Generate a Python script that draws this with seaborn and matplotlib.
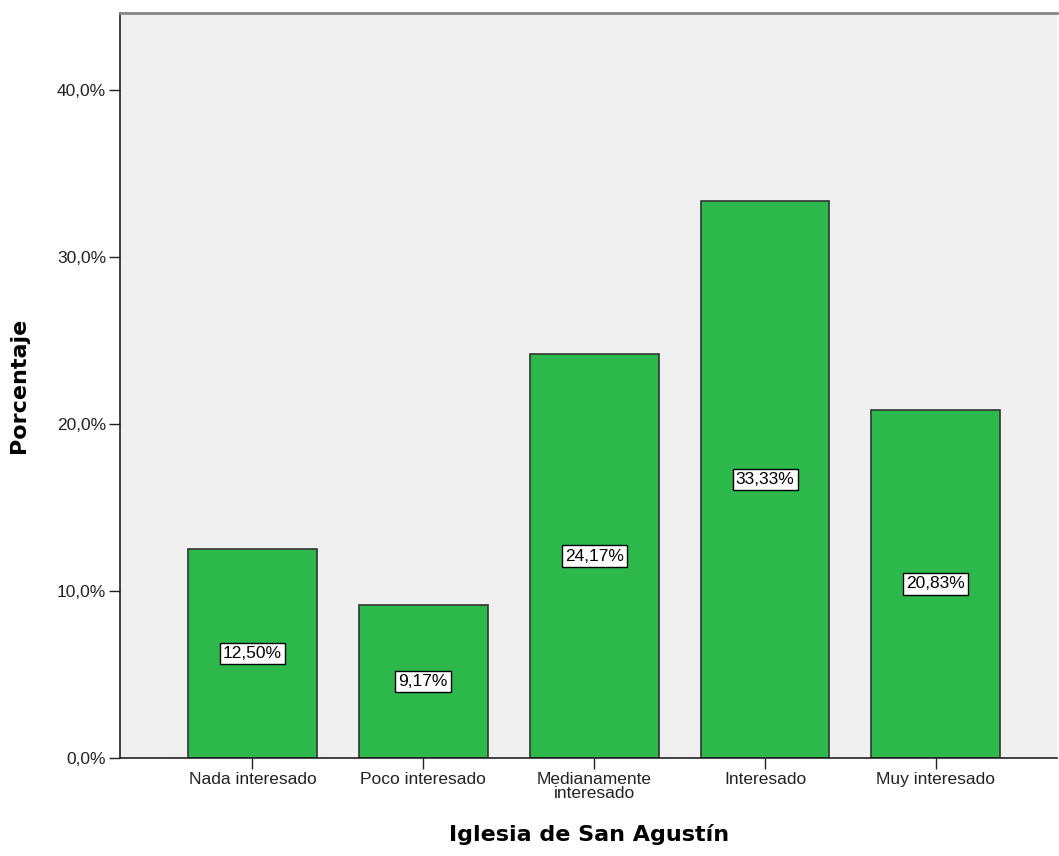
import matplotlib
matplotlib.use("Agg")
import matplotlib.pyplot as plt
import seaborn as sns
import pandas as pd
from matplotlib.ticker import FuncFormatter

# datos
categorias = ["Nada interesado", "Poco interesado", "Medianamente\ninteresado",
              "Interesado", "Muy interesado"]
porcentajes = [12.50, 9.17, 24.17, 33.33, 20.83]
ticks_y = [0, 10, 20, 30, 40]

df = pd.DataFrame({"cat": categorias, "pct": porcentajes})

sns.set_style("white")
plt.rcParams["font.family"] = ["Liberation Sans", "DejaVu Sans"]
plt.rcParams["text.color"] = "black"
plt.rcParams["axes.labelcolor"] = "black"
plt.rcParams["xtick.color"] = "black"
plt.rcParams["ytick.color"] = "black"

fig = plt.figure(figsize=(10.59, 8.56), dpi=100)
ax = fig.add_axes([0.1133, 0.1145, 0.885, 0.8705])
ax.set_facecolor("#F0F0F0")

sns.barplot(data=df, x="cat", y="pct", color="#2DB84B", saturation=1,
            width=0.754, edgecolor="#333333", linewidth=1.2, ax=ax)

# etiquetas en cajas blancas a media altura
for i, v in enumerate(porcentajes):
    ax.text(i, v / 2, f"{v:.2f}%".replace(".", ","), ha="center", va="center",
            fontsize=12.5, color="black",
            bbox=dict(boxstyle="square,pad=0.18", facecolor="white",
                      edgecolor="black", linewidth=1))

ax.set_xlim(-0.775, 4.71)
ax.set_ylim(0, 44.6)
ax.set_yticks(ticks_y)
ax.yaxis.set_major_formatter(FuncFormatter(lambda v, p: f"{v:.1f}%".replace(".", ",")))

ax.tick_params(axis="both", direction="out", length=8, width=1, color="#222222",
               labelsize=12.5, pad=2, left=True, bottom=True, labelcolor="#222222")
for lbl in ax.get_xticklabels():
    lbl.set_linespacing(0.9)

for s in ["left", "bottom"]:
    ax.spines[s].set_color("#222222")
    ax.spines[s].set_linewidth(1.2)
ax.spines["top"].set_color("#888888")
ax.spines["top"].set_linewidth(2)
ax.spines["right"].set_visible(False)

ax.set_xlabel("Iglesia de San Agustín", fontsize=16, fontweight="bold",
              family="DejaVu Sans", labelpad=17, color="black")
ax.set_ylabel("Porcentaje", fontsize=16, fontweight="bold",
              family="DejaVu Sans", labelpad=20, color="black")

fig.savefig("out.png", dpi=100)
